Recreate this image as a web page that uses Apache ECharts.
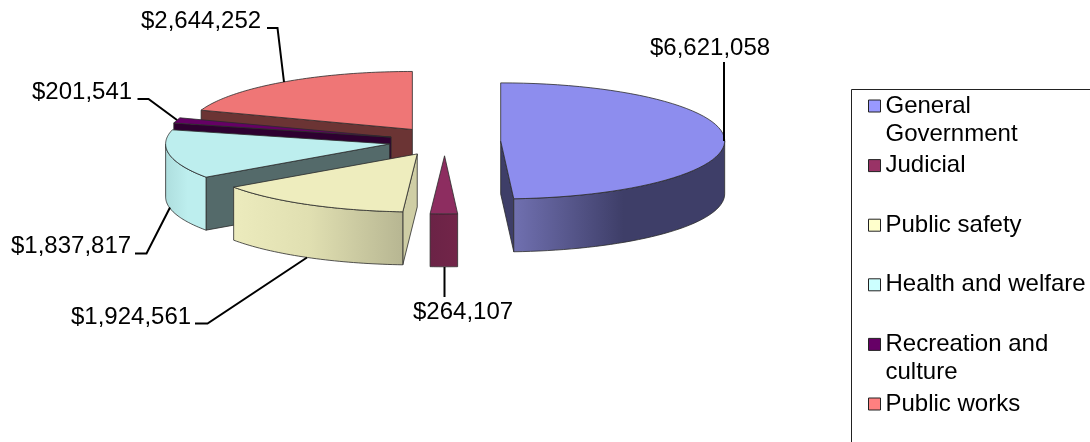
<!DOCTYPE html>
<html>
<head>
<meta charset="utf-8">
<title>Expenditures by function</title>
<script src="https://cdn.jsdelivr.net/npm/echarts@6/dist/echarts.min.js"></script>
<style>
html,body{margin:0;padding:0;background:#fff}
#main{width:1090px;height:442px}
</style>
</head>
<body>
<div id="main"></div>
<script>
// data
var categories = ['General Government', 'Judicial', 'Public safety', 'Health and welfare', 'Recreation and culture', 'Public works'];
var amounts = [6621058, 264107, 1924561, 1837817, 201541, 2644252];

// legend wrapping: the name sits on the middle of three lines, so the swatch lines up with its first row
var legendText = {
    'General Government': '\nGeneral\nGovernment',
    'Judicial': '\nJudicial\n ',
    'Public safety': '\nPublic safety\n ',
    'Health and welfare': '\nHealth and welfare\n ',
    'Recreation and culture': '\nRecreation and\nculture',
    'Public works': '\nPublic works\n '
};

// colours
var legendColors = ['#9999ff', '#993366', '#ffffcc', '#ccffff', '#660066', '#ff8080'];
var topColors = ['#8d8dee', '#8d2d60', '#eeedbe', '#bdeeee', '#650065', '#ef7676'];
var sideColors = ['#3e3e68', '#6e2448', '#cfcea5', '#546a6a', '#2e0030', '#6b3434'];
var wallStops = [
    [[0, '#7070b0'], [0.52, '#3e3e68'], [1, '#3e3e68']],
    [[0, '#6b2346'], [1, '#722549']],
    [[0, '#ecebbd'], [0.45, '#e0dfb1'], [1, '#b7b692']],
    [[0, '#aedede'], [0.55, '#bdeeee'], [1, '#bdeeee']],
    [[0, '#2e0030'], [1, '#2e0030']],
    [[0, '#6b3434'], [1, '#6b3434']]
];

// pie layout
var cx = 444.7, cy = 141.3, rx = 224, ry = 58, depth = 53, explode = 0.25;
// painter's order, back slices first
var drawOrder = [6, 5, 4, 3, 2, 1];
var labelFont = '24px "Liberation Sans", Arial, sans-serif';

// value label position and leader line for every slice
var labelPos = [[650, 48], [413, 312], [71, 317], [11, 246], [32, 92], [141, 21]];
var leaders = [
    [[724, 141], [724, 62]],
    [[444.5, 267], [444.5, 297]],
    [[195, 323.5], [207.5, 323.5], [307, 257.5]],
    [[135, 253.5], [146.5, 253.5], [170, 207.5]],
    [[137.5, 99], [148.5, 99], [177, 120]],
    [[267, 28], [277.5, 28], [284, 82]]
];

var total = amounts.reduce(function (a, b) { return a + b; }, 0);
var sliceStart = [];
var sum = 0;
for (var k = 0; k < amounts.length; k++) {
    sliceStart.push(sum / total * 360);
    sum += amounts[k];
}

function rad(d) { return d * Math.PI / 180; }

function formatMoney(v) {
    return '$' + v.toLocaleString('en-US');
}

// one slice: side walls, outer wall, top face, label
function renderSlice(params, api) {
    var i = params.seriesIndex;
    var value = api.value(0);
    var a = sliceStart[i];
    var b = a + value / total * 360;
    var mid = rad((a + b) / 2);
    var ox = cx + explode * rx * Math.sin(mid);
    var oy = cy - explode * ry * Math.cos(mid);
    var at = function (deg, h) {
        return [ox + rx * Math.sin(rad(deg)), oy - ry * Math.cos(rad(deg)) + (h || 0)];
    };
    var line = { stroke: '#2b2b2b', lineWidth: 0.8 };
    var children = [];

    // radial walls, only those facing the viewer
    var faces = [];
    if (a > 180) faces.push(a);
    if (b < 180) faces.push(b);
    faces.forEach(function (deg) {
        children.push({
            type: 'polygon',
            shape: { points: [[ox, oy], at(deg), at(deg, depth), [ox, oy + depth]] },
            style: Object.assign({ fill: sideColors[i] }, line)
        });
    });

    // outer wall, only the part facing the viewer
    var lo = Math.max(a, 90), hi = Math.min(b, 270);
    if (lo < hi) {
        var wall = [], back = [];
        for (var s = 0; s <= 40; s++) {
            var deg = lo + (hi - lo) * s / 40;
            wall.push(at(deg));
            back.unshift(at(deg, depth));
        }
        var xs = wall.map(function (p) { return p[0]; });
        children.push({
            type: 'polygon',
            shape: { points: wall.concat(back) },
            style: Object.assign({
                fill: new echarts.graphic.LinearGradient(
                    Math.min.apply(null, xs), 0, Math.max.apply(null, xs), 0, wallStops[i].map(function (c) {
                        return { offset: c[0], color: c[1] };
                    }), true)
            }, line)
        });
    }

    // top face
    var top = [[ox, oy]];
    for (var t = 0; t <= 60; t++) {
        top.push(at(a + (b - a) * t / 60));
    }
    children.push({
        type: 'polygon',
        shape: { points: top },
        style: Object.assign({ fill: topColors[i] }, line)
    });

    // leader and value
    children.push({
        type: 'polyline',
        shape: { points: leaders[i] },
        style: { fill: null, stroke: '#000', lineWidth: 2 }
    });
    children.push({
        type: 'text',
        style: {
            text: formatMoney(value),
            x: labelPos[i][0],
            y: labelPos[i][1],
            font: labelFont,
            fill: '#000',
            align: 'left',
            verticalAlign: 'middle'
        }
    });
    return { type: 'group', children: children };
}

var seriesList = categories.map(function (name, i) {
    return {
        type: 'custom',
        name: name,
        coordinateSystem: 'none',
        silent: true,
        z: drawOrder[i],
        itemStyle: { color: legendColors[i] },
        data: [[amounts[i]]],
        renderItem: renderSlice
    };
});

var myChart = echarts.init(document.getElementById('main'), null, { renderer: 'canvas' });
myChart.setOption({
    animation: false,
    backgroundColor: '#fff',
    legend: {
        orient: 'vertical',
        left: 868,
        top: 64,
        height: 1000,
        padding: 0,
        align: 'left',
        icon: 'rect',
        itemWidth: 12,
        itemHeight: 12,
        itemGap: -24.4,
        selectedMode: false,
        data: categories,
        formatter: function (name) { return legendText[name]; },
        itemStyle: { borderColor: '#222', borderWidth: 1 },
        textStyle: {
            fontFamily: '"Liberation Sans", Arial, sans-serif',
            fontSize: 24,
            lineHeight: 28,
            color: '#000'
        }
    },
    graphic: [{
        type: 'polyline',
        silent: true,
        shape: { points: [[1090, 89.5], [851.5, 89.5], [851.5, 442]] },
        style: { fill: null, stroke: '#222', lineWidth: 1 }
    }],
    series: seriesList
});
</script>
</body>
</html>
